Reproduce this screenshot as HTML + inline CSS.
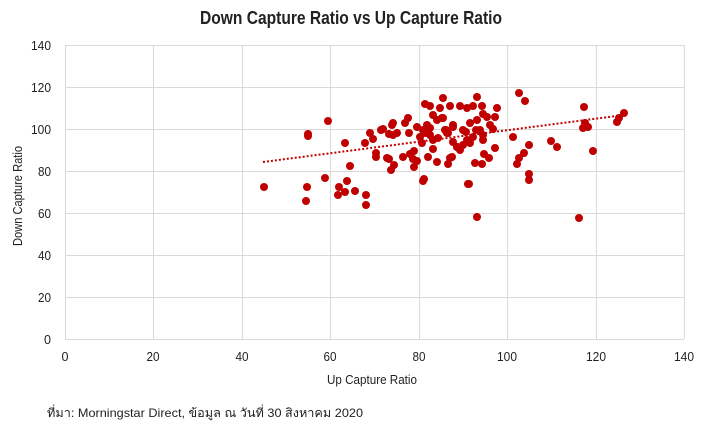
<!DOCTYPE html>
<html><head><meta charset="utf-8"><style>
html,body{margin:0;padding:0;background:#fff;width:703px;height:428px;overflow:hidden}
svg{display:block}
text{font-family:"Liberation Sans Narrow","Liberation Sans",sans-serif;fill:#222}
</style></head><body>
<svg width="703" height="428" viewBox="0 0 703 428">
<text x="351" y="24" text-anchor="middle" font-size="18" font-weight="bold" textLength="302" lengthAdjust="spacingAndGlyphs">Down Capture Ratio vs Up Capture Ratio</text>
<g stroke="#d9d9d9" stroke-width="1">
<line x1="65" y1="45.5" x2="684" y2="45.5"/><line x1="65" y1="87.5" x2="684" y2="87.5"/><line x1="65" y1="129.5" x2="684" y2="129.5"/><line x1="65" y1="171.5" x2="684" y2="171.5"/><line x1="65" y1="213.5" x2="684" y2="213.5"/><line x1="65" y1="255.5" x2="684" y2="255.5"/><line x1="65" y1="297.5" x2="684" y2="297.5"/><line x1="65" y1="339.5" x2="684" y2="339.5"/>
<line x1="65.5" y1="45" x2="65.5" y2="339"/><line x1="153.5" y1="45" x2="153.5" y2="339"/><line x1="242.5" y1="45" x2="242.5" y2="339"/><line x1="330.5" y1="45" x2="330.5" y2="339"/><line x1="419.5" y1="45" x2="419.5" y2="339"/><line x1="507.5" y1="45" x2="507.5" y2="339"/><line x1="596.5" y1="45" x2="596.5" y2="339"/><line x1="684.5" y1="45" x2="684.5" y2="339"/>
</g>
<g font-size="13" text-anchor="end" lengthAdjust="spacingAndGlyphs">
<text x="51" y="50" textLength="20" lengthAdjust="spacingAndGlyphs">140</text><text x="51" y="92" textLength="20" lengthAdjust="spacingAndGlyphs">120</text><text x="51" y="134" textLength="20" lengthAdjust="spacingAndGlyphs">100</text><text x="51" y="176" textLength="13" lengthAdjust="spacingAndGlyphs">80</text><text x="51" y="218" textLength="13" lengthAdjust="spacingAndGlyphs">60</text><text x="51" y="260" textLength="13" lengthAdjust="spacingAndGlyphs">40</text><text x="51" y="302" textLength="13" lengthAdjust="spacingAndGlyphs">20</text><text x="51" y="344" textLength="7" lengthAdjust="spacingAndGlyphs">0</text>
</g>
<g font-size="13" text-anchor="middle">
<text x="65" y="361" textLength="7" lengthAdjust="spacingAndGlyphs">0</text><text x="153" y="361" textLength="13" lengthAdjust="spacingAndGlyphs">20</text><text x="242" y="361" textLength="13" lengthAdjust="spacingAndGlyphs">40</text><text x="330" y="361" textLength="13" lengthAdjust="spacingAndGlyphs">60</text><text x="419" y="361" textLength="13" lengthAdjust="spacingAndGlyphs">80</text><text x="507" y="361" textLength="20" lengthAdjust="spacingAndGlyphs">100</text><text x="596" y="361" textLength="20" lengthAdjust="spacingAndGlyphs">120</text><text x="684" y="361" textLength="20" lengthAdjust="spacingAndGlyphs">140</text>
<text x="372" y="384" textLength="90" lengthAdjust="spacingAndGlyphs">Up Capture Ratio</text>
<text transform="translate(22,196) rotate(-90)" textLength="100" lengthAdjust="spacingAndGlyphs">Down  Capture Ratio</text>
</g>
<text x="47" y="417" font-size="12" textLength="316" lengthAdjust="spacingAndGlyphs" style="font-family:'Liberation Sans','DejaVu Sans',sans-serif">ที่มา: Morningstar Direct, ข้อมูล ณ วันที่ 30 สิงหาคม 2020</text>
<line x1="263" y1="162" x2="624" y2="115" stroke="#c00000" stroke-width="2" stroke-dasharray="2,2"/>
<g fill="#c00000">
<circle cx="264" cy="187" r="4"/><circle cx="307" cy="187" r="4"/><circle cx="306" cy="201" r="4"/><circle cx="308" cy="136" r="4"/><circle cx="308" cy="134" r="4"/><circle cx="328" cy="121" r="4"/><circle cx="325" cy="178" r="4"/><circle cx="345" cy="143" r="4"/><circle cx="350" cy="166" r="4"/><circle cx="339" cy="187" r="4"/><circle cx="347" cy="181" r="4"/><circle cx="338" cy="195" r="4"/><circle cx="345" cy="192" r="4"/><circle cx="355" cy="191" r="4"/><circle cx="366" cy="195" r="4"/><circle cx="366" cy="205" r="4"/><circle cx="365" cy="143" r="4"/><circle cx="370" cy="133" r="4"/><circle cx="373" cy="139" r="4"/><circle cx="376" cy="153" r="4"/><circle cx="376" cy="157" r="4"/><circle cx="381" cy="130" r="4"/><circle cx="383" cy="129" r="4"/><circle cx="387" cy="158" r="4"/><circle cx="389" cy="159" r="4"/><circle cx="394" cy="165" r="4"/><circle cx="391" cy="170" r="4"/><circle cx="389" cy="134" r="4"/><circle cx="393" cy="135" r="4"/><circle cx="397" cy="133" r="4"/><circle cx="392" cy="125" r="4"/><circle cx="393" cy="123" r="4"/><circle cx="403" cy="157" r="4"/><circle cx="405" cy="123" r="4"/><circle cx="408" cy="118" r="4"/><circle cx="409" cy="133" r="4"/><circle cx="410" cy="154" r="4"/><circle cx="414" cy="151" r="4"/><circle cx="414" cy="167" r="4"/><circle cx="413" cy="159" r="4"/><circle cx="417" cy="161" r="4"/><circle cx="423" cy="181" r="4"/><circle cx="424" cy="179" r="4"/><circle cx="425" cy="104" r="4"/><circle cx="430" cy="106" r="4"/><circle cx="443" cy="98" r="4"/><circle cx="433" cy="115" r="4"/><circle cx="440" cy="108" r="4"/><circle cx="442" cy="118" r="4"/><circle cx="450" cy="106" r="4"/><circle cx="460" cy="106" r="4"/><circle cx="467" cy="108" r="4"/><circle cx="437" cy="120" r="4"/><circle cx="417" cy="127" r="4"/><circle cx="423" cy="130" r="4"/><circle cx="430" cy="128" r="4"/><circle cx="420" cy="137" r="4"/><circle cx="422" cy="143" r="4"/><circle cx="433" cy="140" r="4"/><circle cx="438" cy="138" r="4"/><circle cx="433" cy="149" r="4"/><circle cx="428" cy="157" r="4"/><circle cx="437" cy="162" r="4"/><circle cx="446" cy="130" r="4"/><circle cx="448" cy="133" r="4"/><circle cx="453" cy="127" r="4"/><circle cx="453" cy="142" r="4"/><circle cx="457" cy="147" r="4"/><circle cx="460" cy="150" r="4"/><circle cx="452" cy="157" r="4"/><circle cx="448" cy="164" r="4"/><circle cx="463" cy="130" r="4"/><circle cx="468" cy="184" r="4"/><circle cx="427" cy="125" r="4"/><circle cx="425" cy="133" r="4"/><circle cx="430" cy="135" r="4"/>
<circle cx="473" cy="106" r="4"/><circle cx="477" cy="97" r="4"/><circle cx="482" cy="106" r="4"/><circle cx="497" cy="108" r="4"/><circle cx="495" cy="117" r="4"/><circle cx="483" cy="114" r="4"/><circle cx="487" cy="117" r="4"/><circle cx="443" cy="118" r="4"/><circle cx="453" cy="125" r="4"/><circle cx="445" cy="130" r="4"/><circle cx="447" cy="133" r="4"/><circle cx="470" cy="123" r="4"/><circle cx="477" cy="120" r="4"/><circle cx="480" cy="130" r="4"/><circle cx="490" cy="125" r="4"/><circle cx="493" cy="129" r="4"/><circle cx="473" cy="137" r="4"/><circle cx="483" cy="135" r="4"/><circle cx="483" cy="140" r="4"/><circle cx="470" cy="143" r="4"/><circle cx="463" cy="145" r="4"/><circle cx="457" cy="147" r="4"/><circle cx="450" cy="158" r="4"/><circle cx="475" cy="163" r="4"/><circle cx="482" cy="164" r="4"/><circle cx="484" cy="154" r="4"/><circle cx="489" cy="158" r="4"/><circle cx="495" cy="148" r="4"/><circle cx="469" cy="184" r="4"/><circle cx="477" cy="217" r="4"/><circle cx="466" cy="132" r="4"/><circle cx="476" cy="130" r="4"/><circle cx="467" cy="140" r="4"/>
<circle cx="519" cy="93" r="4"/><circle cx="525" cy="101" r="4"/><circle cx="513" cy="137" r="4"/><circle cx="529" cy="145" r="4"/><circle cx="524" cy="153" r="4"/><circle cx="519" cy="158" r="4"/><circle cx="517" cy="164" r="4"/><circle cx="529" cy="174" r="4"/><circle cx="529" cy="180" r="4"/><circle cx="551" cy="141" r="4"/><circle cx="557" cy="147" r="4"/><circle cx="584" cy="107" r="4"/><circle cx="585" cy="123" r="4"/><circle cx="583" cy="128" r="4"/><circle cx="588" cy="127" r="4"/><circle cx="593" cy="151" r="4"/><circle cx="579" cy="218" r="4"/><circle cx="624" cy="113" r="4"/><circle cx="619" cy="118" r="4"/><circle cx="617" cy="122" r="4"/>
</g>
</svg>
</body></html>
